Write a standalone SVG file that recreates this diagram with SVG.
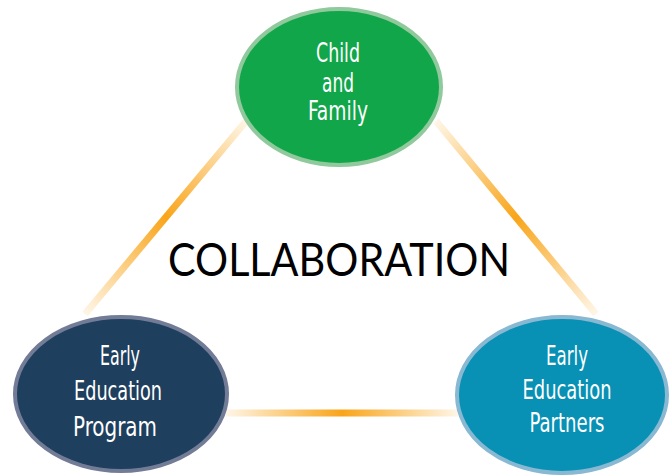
<svg xmlns="http://www.w3.org/2000/svg" width="670" height="476" viewBox="0 0 670 476">
<style>
.lbl{font-family:"DejaVu Sans Condensed","Liberation Sans Narrow","Liberation Sans",sans-serif;font-size:27px;fill:#ffffff;text-anchor:middle}
.title{font-family:"Lato","Liberation Sans",sans-serif;font-size:46px;fill:#000000;text-anchor:middle}
.conn{fill:none;stroke-width:7}
</style>
<defs>
<linearGradient id="gL" gradientUnits="userSpaceOnUse" x1="247" y1="120" x2="85" y2="314">
<stop offset="0" stop-color="#F9A51A" stop-opacity="0.1"/>
<stop offset="0.5" stop-color="#F9A51A"/>
<stop offset="1" stop-color="#F9A51A" stop-opacity="0.1"/>
</linearGradient>
<linearGradient id="gR" gradientUnits="userSpaceOnUse" x1="436" y1="121" x2="596" y2="314">
<stop offset="0" stop-color="#F9A51A" stop-opacity="0.1"/>
<stop offset="0.5" stop-color="#F9A51A"/>
<stop offset="1" stop-color="#F9A51A" stop-opacity="0.1"/>
</linearGradient>
<linearGradient id="gB" gradientUnits="userSpaceOnUse" x1="226" y1="0" x2="458" y2="0">
<stop offset="0" stop-color="#F9A51A" stop-opacity="0.1"/>
<stop offset="0.5" stop-color="#F9A51A"/>
<stop offset="1" stop-color="#F9A51A" stop-opacity="0.1"/>
</linearGradient>
</defs>
<g id="connectors">
<line class="conn" x1="247" y1="120" x2="85" y2="314" stroke="url(#gL)"/>
<line class="conn" x1="436" y1="121" x2="596" y2="314" stroke="url(#gR)"/>
<line class="conn" x1="226" y1="413" x2="458" y2="413" stroke="url(#gB)"/>
</g>
<text class="title" x="339" y="276" textLength="342" lengthAdjust="spacingAndGlyphs">COLLABORATION</text>
<g id="child-family">
<ellipse cx="339" cy="87" rx="102" ry="78" fill="#12A64B" stroke="#8FC99C" stroke-width="4"/>
<text class="lbl" x="338" y="62" textLength="44" lengthAdjust="spacingAndGlyphs">Child</text>
<text class="lbl" x="338" y="92" textLength="32" lengthAdjust="spacingAndGlyphs">and</text>
<text class="lbl" x="338" y="120" textLength="60" lengthAdjust="spacingAndGlyphs">Family</text>
</g>
<g id="early-education-program">
<ellipse cx="121" cy="394" rx="106" ry="77" fill="#1F3F5E" stroke="#737C96" stroke-width="4"/>
<text class="lbl" x="120" y="365" textLength="40" lengthAdjust="spacingAndGlyphs">Early</text>
<text class="lbl" x="118" y="400" textLength="88" lengthAdjust="spacingAndGlyphs">Education</text>
<text class="lbl" x="115" y="436" textLength="84" lengthAdjust="spacingAndGlyphs">Program</text>
</g>
<g id="early-education-partners">
<ellipse cx="562" cy="395" rx="105" ry="78" fill="#0891B5" stroke="#88B8D2" stroke-width="4"/>
<text class="lbl" x="567" y="365" textLength="42" lengthAdjust="spacingAndGlyphs">Early</text>
<text class="lbl" x="567" y="399" textLength="89" lengthAdjust="spacingAndGlyphs">Education</text>
<text class="lbl" x="567" y="432" textLength="75" lengthAdjust="spacingAndGlyphs">Partners</text>
</g>
</svg>
